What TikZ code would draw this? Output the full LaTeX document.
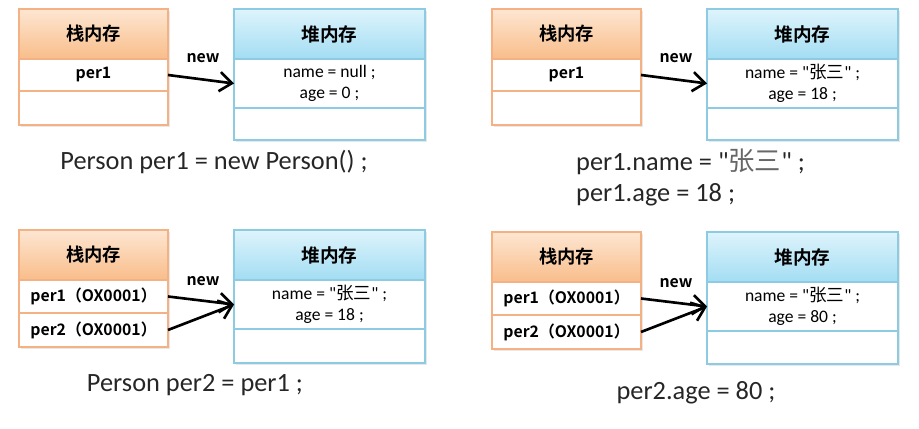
\documentclass[tikz,border=0pt]{standalone}
\usepackage{fontspec}
\usetikzlibrary{positioning,arrows.meta,shadows}
\setmainfont{Carlito}[Ligatures=TeXOff]
\newfontfamily\cjk{Noto Sans CJK SC}[BoldFont={Noto Sans CJK SC Bold}]

\definecolor{stacktop}{HTML}{FDE6D2}
\definecolor{stackbot}{HTML}{F9BD8A}
\definecolor{stackline}{HTML}{F4B183}
\definecolor{heaptop}{HTML}{DEF4FC}
\definecolor{heapbot}{HTML}{A3DDF3}
\definecolor{heapline}{HTML}{8CCBE2}
\definecolor{txt}{HTML}{262626}

\tikzset{
	box/.style={rectangle, inner sep=0pt, outer sep=0pt, line width=0.9pt,
		drop shadow={opacity=0.18, shadow xshift=0.9pt, shadow yshift=-0.9pt}},
	stackhd/.style={box, minimum width=2.98cm, minimum height=1cm, draw=stackline,
		top color=stacktop, bottom color=stackbot, font=\cjk\bfseries\fontsize{10.4}{12}\selectfont},
	stackrow/.style={box, minimum width=2.98cm, draw=stackline, fill=white,
		font=\cjk\bfseries\fontsize{9}{10}\selectfont},
	heaphd/.style={box, minimum width=3.82cm, minimum height=1cm, draw=heapline,
		top color=heaptop, bottom color=heapbot, font=\cjk\bfseries\fontsize{10.6}{12}\selectfont},
	heaprow/.style={box, minimum width=3.82cm, draw=heapline, fill=white, align=center,
		font=\fontsize{10}{12}\selectfont},
	newlbl/.style={font=\cjk\bfseries\fontsize{9}{11}\selectfont},
	code/.style={text=txt, font=\fontsize{15}{17.6}\selectfont},
	ref/.style={-{Straight Barb[length=7pt,width=11pt,line width=1.5pt]}, line width=1.5pt},
}

\begin{document}
\begin{tikzpicture}[x=0.02cm, y=-0.02cm]
	\useasboundingbox (0,0) rectangle (919,429);

	% new Person()
	\node[stackhd] (s1h) at (93.5,34) {栈内存};
	\node[stackrow, minimum height=0.64cm, below=0pt of s1h] (s1a) {per1};
	\node[stackrow, minimum height=0.68cm, below=0pt of s1a] (s1b) {};
	\node[heaphd] (h1h) at (329.5,34) {堆内存};
	\node[heaprow, minimum height=0.98cm, below=0pt of h1h] (h1a) {name = null ;\\age = 0 ;};
	\node[heaprow, minimum height=0.64cm, below=0pt of h1a] (h1b) {};
	\node[newlbl] (n1) at (203,58) {new};
	\draw[ref] (s1a.east) -- (h1a.west);
	\node[code] (c1) at (214,162) {Person per1 = new Person() ;};

	% set name and age
	\begin{scope}[shift={(473,0)}]
		\node[stackhd] (s2h) at (93.5,34) {栈内存};
		\node[stackrow, minimum height=0.64cm, below=0pt of s2h] (s2a) {per1};
		\node[stackrow, minimum height=0.68cm, below=0pt of s2a] (s2b) {};
		\node[heaphd] (h2h) at (329.5,34) {堆内存};
		\node[heaprow, minimum height=0.98cm, below=0pt of h2h] (h2a) {name = "{\cjk 张三}" ;\\age = 18 ;};
		\node[heaprow, minimum height=0.64cm, below=0pt of h2a] (h2b) {};
		\node[newlbl] (n2) at (203,58) {new};
		\draw[ref] (s2a.east) -- (h2a.west);
		\node[code, align=left, anchor=west] (c2) at (97,177.5) {per1.name = "{\cjk\color{txt!70} 张三}" ;\\per1.age = 18 ;};
	\end{scope}

	% per2 = per1
	\begin{scope}[shift={(0,221)}]
		\node[stackhd] (s3h) at (93.5,34) {栈内存};
		\node[stackrow, minimum height=0.66cm, below=0pt of s3h] (s3a) {per1（OX0001）};
		\node[stackrow, minimum height=0.68cm, below=0pt of s3a] (s3b) {per2（OX0001）};
		\node[heaphd] (h3h) at (329.5,34) {堆内存};
		\node[heaprow, minimum height=0.98cm, below=0pt of h3h] (h3a) {name = "{\cjk 张三}" ;\\age = 18 ;};
		\node[heaprow, minimum height=0.68cm, below=0pt of h3a] (h3b) {};
		\node[newlbl] (n3) at (203,60) {new};
		\draw[ref] (s3a.east) -- (h3a.west);
		\draw[ref] (s3b.east) -- (h3a.west);
		\node[code] (c3) at (195,164) {Person per2 = per1 ;};
	\end{scope}

	% per2.age
	\begin{scope}[shift={(473,223)}]
		\node[stackhd] (s4h) at (93.5,34) {栈内存};
		\node[stackrow, minimum height=0.66cm, below=0pt of s4h] (s4a) {per1（OX0001）};
		\node[stackrow, minimum height=0.68cm, below=0pt of s4a] (s4b) {per2（OX0001）};
		\node[heaphd] (h4h) at (329.5,34) {堆内存};
		\node[heaprow, minimum height=0.98cm, below=0pt of h4h] (h4a) {name = "{\cjk 张三}" ;\\age = 80 ;};
		\node[heaprow, minimum height=0.66cm, below=0pt of h4a] (h4b) {};
		\node[newlbl] (n4) at (203,60) {new};
		\draw[ref] (s4a.east) -- (h4a.west);
		\draw[ref] (s4b.east) -- (h4a.west);
		\node[code] (c4) at (223,170) {per2.age = 80 ;};
	\end{scope}
\end{tikzpicture}
\end{document}
